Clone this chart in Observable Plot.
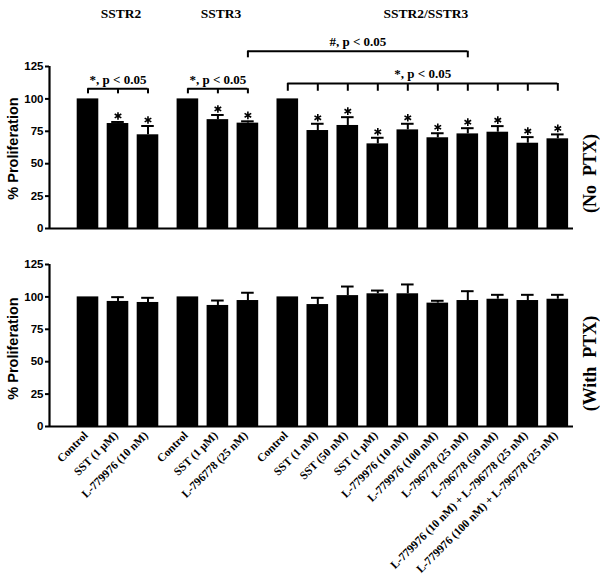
<!DOCTYPE html>
<html><head><meta charset="utf-8">
<script src="https://cdn.jsdelivr.net/npm/d3@7"></script>
<script src="https://cdn.jsdelivr.net/npm/@observablehq/plot@0.6"></script>
<style>
body{margin:0;background:#fff;}
#chart{width:600px;height:579px;position:relative;overflow:hidden;}
#chart svg{display:block;}
</style></head><body><div id="chart"></div>
<script>
// ---- data ----
const groups = ["SSTR2", "SSTR3", "SSTR2/SSTR3"];
const treatments = [
  "Control", "SST (1 μM)", "L-779976 (10 nM)",
  "Control", "SST (1 μM)", "L-796778 (25 nM)",
  "Control", "SST (1 nM)", "SST (50 nM)", "SST (1 μM)",
  "L-779976 (10 nM)", "L-779976 (100 nM)", "L-796778 (25 nM)", "L-796778 (50 nM)",
  "L-779976 (10 nM) + L-796778 (25 nM)", "L-779976 (100 nM) + L-796778 (25 nM)"
];
const groupIndex = [0,0,0, 1,1,1, 2,2,2,2,2,2,2,2,2,2];
const noPTX    = [100, 81, 72.3, 100, 84, 81.3, 100, 75.6, 79.5, 65.3, 76.1, 70, 73, 74.3, 65.8, 69.2];
const noPTXerr = [0, 1.2, 6.8, 0, 3.6, 1.4, 0, 5.2, 6.4, 4.7, 4.7, 3.5, 4.4, 4.7, 4.7, 3.4];
const withPTX    = [100, 96.5, 95.7, 100, 93.4, 97.2, 100, 94.1, 101, 102.4, 102.4, 95.2, 97.2, 98.2, 97.2, 98.2];
const withPTXerr = [0, 3.3, 3.6, 0, 3.8, 6, 0, 5.2, 7, 2.5, 7.2, 1.8, 7.2, 3.4, 4.4, 3.4];
const significant = [false,true,true, false,true,true, false,true,true,true,true,true,true,true,true,true];
const sigLabel = "*, p < 0.05";
const hashLabel = "#, p < 0.05";
const yTicks = [0, 25, 50, 75, 100, 125];
// brackets: indices of first/last bar covered
const starBrackets = [{first: 0, last: 2}, {first: 3, last: 5}, {first: 6, last: 15}];
const hashBracket = {first: 5, last: 12};

// ---- layout ----
const GAP = 0.33, HALF = 0.36, CAP = 0.21;
const XDOM = [-1.283, 16.183];
const SERIF = "'Liberation Serif', 'Times New Roman', serif";
const SANS = "'Liberation Sans', Arial, sans-serif";

const rows = treatments.map((label, i) => ({
  i, label, group: groupIndex[i], pos: i + GAP * groupIndex[i],
  a: noPTX[i], aErr: noPTXerr[i], b: withPTX[i], bErr: withPTXerr[i], sig: significant[i]
}));
const groupRows = groups.map((name, g) => {
  const r = rows.filter(d => d.group === g);
  return {name, center: (r[0].pos + r[r.length - 1].pos) / 2};
});

function barMarks(v, e) {
  const withErr = rows.filter(d => d[e] > 0);
  return [
    Plot.rect(rows, {x1: d => d.pos - HALF, x2: d => d.pos + HALF, y1: 0, y2: v, fill: "black"}),
    Plot.ruleX(withErr, {x: "pos", y1: v, y2: d => d[v] + d[e], stroke: "black", strokeWidth: 2}),
    Plot.ruleY(withErr, {y: d => d[v] + d[e], x1: d => d.pos - CAP, x2: d => d.pos + CAP, stroke: "black", strokeWidth: 2}),
    Plot.ruleY([0], {stroke: "black", strokeWidth: 2.2}),
    Plot.ruleX([XDOM[0]], {y1: 0, y2: 125, stroke: "black", strokeWidth: 2.2}),
    Plot.axisY({ticks: yTicks, tickSize: 4, tickPadding: 2, strokeWidth: 2, fontSize: 11.5, fontWeight: "bold", label: null})
  ];
}

function bracketMarks() {
  const marks = [];
  const levels = [107.8, 107.8, 111.9];
  const drops = [3.9, 3.9, 6.0];
  starBrackets.forEach((b, k) => {
    const bars = rows.slice(b.first, b.last + 1);
    const y = levels[k];
    marks.push(Plot.ruleY([y], {x1: bars[0].pos, x2: bars[bars.length - 1].pos, stroke: "black", strokeWidth: 2}));
    marks.push(Plot.ruleX(bars, {x: "pos", y1: y, y2: y - drops[k], stroke: "black", strokeWidth: 2}));
    marks.push(Plot.text([sigLabel], {x: (bars[0].pos + bars[bars.length - 1].pos) / 2, y, dy: -5, lineAnchor: "bottom",
      fill: "black", fontFamily: SERIF, fontWeight: "bold", fontSize: 13}));
  });
  const hb = [rows[hashBracket.first], rows[hashBracket.last]];
  const hy = 136.8;
  marks.push(Plot.ruleY([hy], {x1: hb[0].pos, x2: hb[1].pos, stroke: "black", strokeWidth: 2}));
  marks.push(Plot.ruleX(hb, {x: "pos", y1: hy, y2: hy - 5.1, stroke: "black", strokeWidth: 2}));
  marks.push(Plot.text([hashLabel], {x: (hb[0].pos + hb[1].pos) / 2, y: hy, dy: -5, lineAnchor: "bottom",
    fill: "black", fontFamily: SERIF, fontWeight: "bold", fontSize: 13}));
  return marks;
}

const common = {
  width: 600, marginLeft: 49, marginRight: 27,
  x: {domain: XDOM, axis: null},
  y: {domain: [0, 125]},
  style: {background: "white", color: "black", fontFamily: SANS, overflow: "visible"}
};

const topChart = Plot.plot({
  ...common, height: 240, marginTop: 66, marginBottom: 12,
  marks: [
    ...barMarks("a", "aErr"),
    Plot.dot(rows.filter(d => d.sig), {x: "pos", y: d => d.a + d.aErr, dy: -6, symbol: "asterisk", r: 3.6,
      stroke: "black", strokeWidth: 1.6}),
    ...bracketMarks(),
    Plot.text(groupRows, {x: "center", text: "name", frameAnchor: "top", textAnchor: "middle", dx: 3, dy: -49, lineAnchor: "bottom",
      fill: "black", fontFamily: SERIF, fontWeight: "bold", fontSize: 13.5}),
    Plot.text(["(No\u00a0\u00a0PTX)"], {frameAnchor: "right", textAnchor: "middle", lineAnchor: "middle", dx: 17, dy: 26, rotate: -90,
      fill: "black", fontFamily: SERIF, fontWeight: "bold", fontSize: 18}),
    Plot.text(["% Proliferation"], {frameAnchor: "left", textAnchor: "middle", lineAnchor: "middle", dx: -36, dy: 1, rotate: -90,
      fill: "black", fontFamily: SANS, fontWeight: "bold", fontSize: 14.5})
  ]
});

const bottomChart = Plot.plot({
  ...common, height: 339, marginTop: 24, marginBottom: 153,
  marks: [
    ...barMarks("b", "bErr"),
    Plot.text(rows, {x: "pos", text: "label", frameAnchor: "bottom", rotate: -45, textAnchor: "end", lineAnchor: "middle",
      dx: -2, dy: 7, fill: "black", fontFamily: SERIF, fontWeight: "bold", fontSize: 11.5}),
    Plot.text(["(With\u00a0\u00a0PTX)"], {frameAnchor: "right", textAnchor: "middle", lineAnchor: "middle", dx: 17, dy: 18, rotate: -90,
      fill: "black", fontFamily: SERIF, fontWeight: "bold", fontSize: 18}),
    Plot.text(["% Proliferation"], {frameAnchor: "left", textAnchor: "middle", lineAnchor: "middle", dx: -36, dy: 3, rotate: -90,
      fill: "black", fontFamily: SANS, fontWeight: "bold", fontSize: 14.5})
  ]
});

const el = document.getElementById("chart");
el.appendChild(topChart);
el.appendChild(bottomChart);
</script></body></html>
